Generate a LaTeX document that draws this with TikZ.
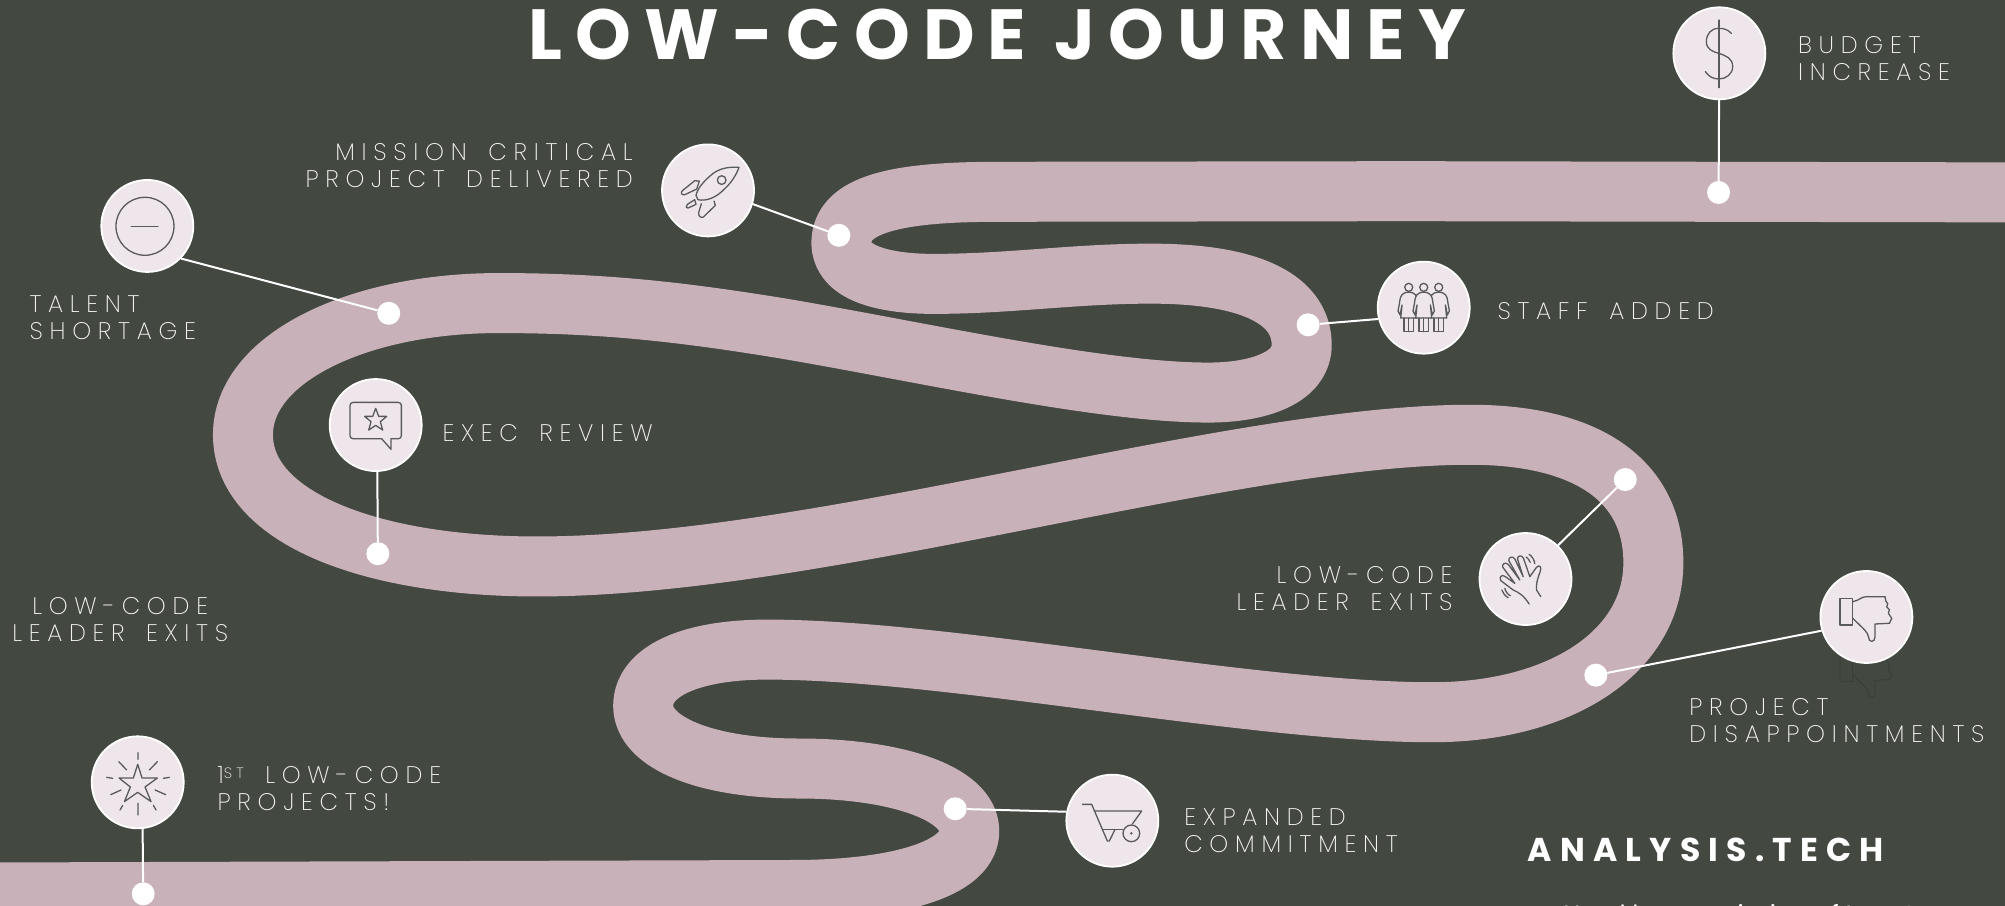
\documentclass[tikz,border=0pt]{standalone}
\usepackage{fontspec}
\setmainfont{Poppins}
\newfontfamily\lightfam{Poppins}[UprightFont=* ExtraLight,LetterSpace=28,WordSpace=1.6]
\newfontfamily\titlefam{Poppins}[UprightFont=* Bold,LetterSpace=18.5]
\newfontfamily\brandfam{Poppins}[UprightFont=* Bold,LetterSpace=25]
\definecolor{bgc}{HTML}{434840}
\definecolor{ribbonc}{HTML}{C9B1BA}
\definecolor{iconbg}{HTML}{EEE6EA}
\definecolor{iconln}{HTML}{5A5A5C}
\definecolor{labelc}{HTML}{F4F2F2}
\definecolor{ghostc}{HTML}{383B36}
\tikzset{
 iconnode/.style={circle,draw=white,line width=1.8pt,fill=iconbg,minimum size=92pt,inner sep=0pt},
 dotnode/.style={circle,fill=white,minimum size=23pt,inner sep=0pt},
 linkline/.style={draw=white,line width=2pt},
 lbl/.style={text=labelc,inner sep=0pt,font=\lightfam\fontsize{24}{27}\selectfont},
 iconline/.style={draw=iconln,line width=1.3pt,line cap=round,line join=round},
 iconscope/.style={x=.3333pt,y=-.3333pt}
}
\begin{document}
\begin{tikzpicture}[x=1.27870pt,y=-1.27870pt]
\useasboundingbox (0,0) rectangle (1568,708.5);
\clip (0,0) rectangle (1568,708.5);
\fill[bgc] (0,0) rectangle (1568,708.5);
% ribbon
\draw[ribbonc,line width=60pt,line join=round]
 (1600,150.5) -- (1100,149.5) -- (780,150) .. controls (700,150) and (658,160) .. (658,190)
 .. controls (658,215) and (695,222) .. (730,222) .. controls (790,222) and (840,214) .. (900,214)
 .. controls (980,214) and (1018,235) .. (1018,270) .. controls (1018,295) and (985,307) .. (945,307)
 .. controls (860,307) and (720,275) .. (610,256.5) .. controls (530,243.5) and (470,237) .. (390,237)
 .. controls (280,237) and (190,280) .. (190,340)
 .. controls (190,405) and (290,443) .. (420,443) .. controls (640,443) and (960,340) .. (1150,340)
 .. controls (1240,340) and (1293,375) .. (1293,440) .. controls (1293,510) and (1220,557) .. (1120,557)
 .. controls (980,557) and (740,508) .. (600,508) .. controls (540,508) and (503,525) .. (503,552)
 .. controls (503,580) and (550,601) .. (625,601) .. controls (700,601) and (758,620) .. (758,650)
 .. controls (758,680) and (700,696) .. (620,696) -- (-20,698);
% ghost of the thumb icon
\begin{scope}[shift={(1459.6,526.5)},iconscope]
 \draw[draw=ghostc,line width=.7pt,line join=round]
  (-79,-56) rectangle (-41,24)
  (-41,-46) .. controls (-20,-50) and (-15,-61) .. (0,-61) -- (56,-61) -- (61,-41) -- (69,-26) -- (66,-11) -- (76,4) -- (69,19) -- (26,21) -- (26,59) .. controls (26,78) and (6,78) .. (6,59) .. controls (3,45) and (-4,40) .. (-41,4);
\end{scope}
% icon circles
\node[iconnode] (budget) at (1344.6,41.7) {};
\node[iconnode] (rocket) at (553.7,148.9) {};
\node[iconnode] (talent) at (115.2,176.7) {};
\node[iconnode] (staff) at (1113.4,240.6) {};
\node[iconnode] (review) at (293.8,332.4) {};
\node[iconnode] (wave) at (1193,452.8) {};
\node[iconnode] (thumb) at (1459.6,482.5) {};
\node[iconnode] (firststar) at (107.7,611.8) {};
\node[iconnode] (cart) at (869.9,641.8) {};
% dots
\node[dotnode] (dbudget) at (1344,150.5) {};
\node[dotnode] (drocket) at (656,184) {};
\node[dotnode] (dtalent) at (304,245) {};
\node[dotnode] (dstaff) at (1023,254) {};
\node[dotnode] (dreview) at (295.5,433) {};
\node[dotnode] (dwave) at (1271,375) {};
\node[dotnode] (dthumb) at (1248,528) {};
\node[dotnode] (dcart) at (747,632.5) {};
\node[dotnode] (dstar) at (112,699) {};
% connectors
\draw[linkline] (budget) -- (dbudget);
\draw[linkline] (rocket.-17) -- (drocket);
\draw[linkline] (talent.316) -- (dtalent);
\draw[linkline] (staff.194) -- (dstaff);
\draw[linkline] (review.-88) -- (dreview);
\draw[linkline] (wave.46) -- (dwave);
\draw[linkline] (thumb.197) -- (dthumb);
\draw[linkline] (cart.169) -- (dcart);
\draw[linkline] (firststar.-84) -- (dstar);
% dollar
\begin{scope}[shift={(budget.center)},iconscope]
 \draw[iconline] (-1,-100) -- (-1,103);
 \draw[iconline] (36,-60) .. controls (25,-72) and (12,-75) .. (-2,-75) .. controls (-25,-75) and (-39,-58) .. (-39,-35) .. controls (-39,-12) and (-20,-5) .. (-2,0) .. controls (20,7) and (40,15) .. (40,40) .. controls (40,62) and (20,77) .. (-2,77) .. controls (-20,77) and (-33,68) .. (-42,55);
\end{scope}
% minus in ring
\begin{scope}[shift={(talent.center)},iconscope]
 \draw[iconline] (-7,1) circle (87);
 \draw[iconline] (-48,1) -- (32,1);
\end{scope}
% rocket
\begin{scope}[shift={(rocket.center)},iconscope]
 \draw[iconline] (93,-69) .. controls (60,-72) and (30,-65) .. (8,-45) .. controls (-15,-25) and (-32,-5) .. (-36,15) -- (-30,28) .. controls (-5,33) and (25,22) .. (50,-5) .. controls (72,-25) and (85,-48) .. (93,-69) -- cycle;
 \draw[iconline] (41,-31) circle (13);
 \draw[iconline] (-40,-29) -- (-26,-28) -- (-34,-4) -- (-70,13) .. controls (-80,14) and (-84,8) .. (-76,0) -- cycle;
 \draw[iconline] (-40,28) -- (-62,42) .. controls (-68,48) and (-66,54) .. (-60,53) -- (-36,42) -- cycle;
 \draw[iconline] (-20,40) -- (-28,66) .. controls (-30,76) and (-22,84) .. (-14,80) -- (22,45) -- (18,32);
\end{scope}
% staff
\begin{scope}[shift={(staff.center)},iconscope]
 \foreach \dx in {-45,45,0}{
  \draw[iconline,fill=iconbg] (\dx-13,-44) .. controls (\dx-26,-38) and (\dx-26,-25) .. (\dx-28,-12) -- (\dx-32,10) -- (\dx-26,22) -- (\dx-20,-8) -- (\dx-24,31) -- (\dx+24,31) -- (\dx+20,-8) -- (\dx+26,22) -- (\dx+32,10) -- (\dx+28,-12) .. controls (\dx+26,-25) and (\dx+26,-38) .. (\dx+13,-44) -- (\dx+6,-46) -- (\dx-6,-46) -- cycle;
  \draw[iconline] (\dx,-61) circle (12);
  \draw[iconline] (\dx-14,31) -- (\dx-14,72) -- (\dx+14,72) -- (\dx+14,31) (\dx,31) -- (\dx,72);
 }
\end{scope}
% review
\begin{scope}[shift={(review.center)},iconscope]
 \draw[iconline,rounded corners=3pt] (18,41) -- (-77,41) -- (-77,-68) -- (77,-68) -- (77,41) -- (46,41);
 \draw[iconline] (18,41) -- (46,73) -- (46,41);
 \draw[iconline] (0,-50) -- (9,-26) -- (33,-26) -- (14,-10) -- (21,15) -- (0,1) -- (-21,15) -- (-14,-10) -- (-33,-26) -- (-9,-26) -- cycle;
\end{scope}
% wave
\begin{scope}[shift={(wave.center)},iconscope]
 \draw[iconline] (11,75) .. controls (-5,50) and (-20,40) .. (-37,33) -- (-74,5) .. controls (-80,-5) and (-72,-15) .. (-62,-8) -- (-32,13) -- (-68,-35) .. controls (-72,-45) and (-60,-52) .. (-52,-44) -- (-17,3) -- (-50,-55) .. controls (-52,-66) and (-38,-70) .. (-32,-60) -- (-7,-7) -- (-24,-60) .. controls (-24,-72) and (-10,-72) .. (-6,-62) -- (13,-7) -- (33,-35) .. controls (42,-45) and (48,-35) .. (45,-25) .. controls (38,-5) and (32,10) .. (33,25) -- (33,33) -- (46,53);
 \draw[iconline] (11,-74) .. controls (20,-68) and (26,-58) .. (28,-46);
 \draw[iconline] (2,-66) .. controls (8,-62) and (12,-56) .. (14,-50);
 \draw[iconline] (-62,28) .. controls (-60,38) and (-52,48) .. (-45,50);
 \draw[iconline] (-71,33) .. controls (-68,42) and (-62,50) .. (-52,56);
\end{scope}
% thumb down
\begin{scope}[shift={(thumb.center)},iconscope]
 \draw[iconline] (-79,-56) rectangle (-41,24);
 \draw[iconline] (-41,-46) .. controls (-20,-50) and (-15,-61) .. (0,-61) -- (56,-61) -- (58,-48) -- (64,-40) -- (61,-30) -- (69,-22) -- (66,-11) -- (76,4) -- (69,19) -- (26,21) -- (26,59) .. controls (26,78) and (6,78) .. (6,59) .. controls (3,45) and (-4,40) .. (-41,4);
\end{scope}
% star with rays
\begin{scope}[shift={(firststar.center)},iconscope]
 \draw[iconline] (0,-54) -- (13,-13) -- (59,-13) -- (22,14) -- (40,58) -- (0,30) -- (-40,58) -- (-22,14) -- (-56,-13) -- (-13,-13) -- cycle;
 \draw[iconline] (1,-89) -- (1,-69) (-57,-62) -- (-33,-37) (59,-62) -- (35,-37) (-93,-15) -- (-75,-12) (95,-15) -- (77,-12) (-81,37) -- (-50,23) (84,37) -- (52,23) (-53,83) -- (-45,69) (55,83) -- (47,69) (1,63) -- (1,98);
\end{scope}
% wheelbarrow
\begin{scope}[shift={(cart.center)},iconscope]
 \draw[iconline] (-90,-49) -- (-62,-49) -- (-15,61) -- (-9,61) -- (8,26);
 \draw[iconline] (-54,-29) -- (88,-29) -- (60,10);
 \draw[iconline] (-27,26) -- (31,26);
 \draw[iconline] (57,38) circle (25);
 \fill[iconln] (57,38) circle (4);
\end{scope}
% labels
\node[lbl,anchor=west,align=left] (tbudget) at (1406,45.5) {BUDGET\\INCREASE};
\node[lbl,anchor=east,align=right] (tmission) at (495,129.5) {MISSION CRITICAL\\PROJECT DELIVERED};
\node[lbl,anchor=west,align=left] (ttalent) at (23,248.5) {TALENT\\SHORTAGE};
\node[lbl,anchor=west] (tstaff) at (1171,243) {STAFF ADDED};
\node[lbl,anchor=west] (treview) at (346,339) {EXEC REVIEW};
\node[lbl,anchor=east,align=right] (twave) at (1136,460) {LOW-CODE\\LEADER EXITS};
\node[lbl,align=center] (tleft) at (94,484.5) {LOW-CODE\\LEADER EXITS};
\node[lbl,anchor=west,align=left] (tthumb) at (1321,563.5) {PROJECT\\DISAPPOINTMENTS};
\node[lbl,anchor=west,align=left] (tstar) at (170,617) {1{\fontsize{15}{15}\selectfont\raisebox{5pt}{ST}} LOW-CODE\\PROJECTS!};
\node[lbl,anchor=west,align=left] (tcart) at (926,649.5) {EXPANDED\\COMMITMENT};
\node[text=white,inner sep=0pt,font=\titlefam\fontsize{71}{71}\selectfont] (title) at (780,27) {LOW-CODE JOURNEY};
\node[text=white,inner sep=0pt,font=\brandfam\fontsize{33}{33}\selectfont] (brand) at (1334,665) {ANALYSIS.TECH};
\node[text=white,inner sep=0pt,anchor=base,font=\fontsize{25}{25}\selectfont] (credit) at (1360,722) {Used by permission of Insert};
\end{tikzpicture}
\end{document}
